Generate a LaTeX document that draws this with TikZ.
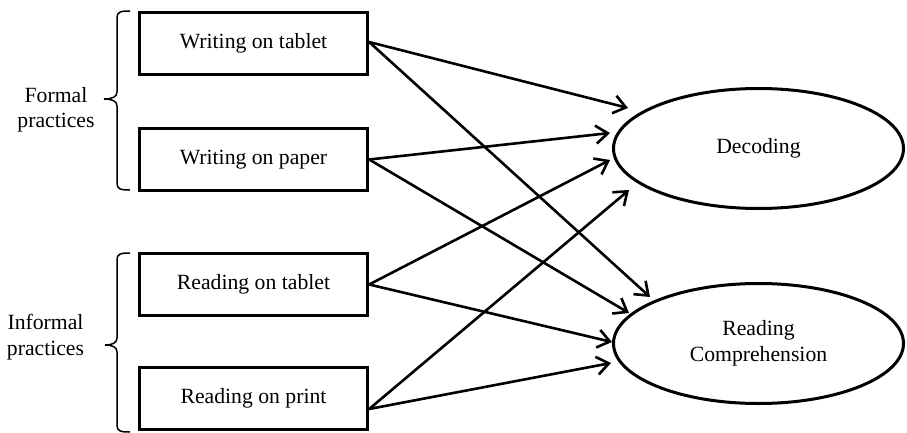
\documentclass[tikz,border=0pt]{standalone}
\usepackage{fontspec}
\setmainfont{Liberation Serif}
\usetikzlibrary{shapes.geometric,arrows.meta,calc}
\tikzset{
  pbox/.style={draw, line width=3.3pt, minimum width=228pt, minimum height=62pt, inner sep=0pt, font=\fontsize{21.7}{25.5}\selectfont},
  oval/.style={draw, ellipse, line width=3pt, minimum width=290pt, minimum height=120pt, inner sep=0pt, align=center, font=\fontsize{21.7}{25.5}\selectfont},
  grp/.style={align=center, font=\fontsize{21.7}{25.5}\selectfont, inner sep=0pt},
  arr/.style={line width=2.6pt, -{Straight Barb[length=12pt,width=18pt,line width=2.6pt]}, line cap=round},
  brace/.style={line width=1.5pt}
}
\begin{document}
\begin{tikzpicture}[x=1pt,y=-1pt]
\useasboundingbox (0,0) rectangle (907,433);
% boxes
\node[pbox] (wt) at (253.5,43.5) {Writing on tablet};
\node[pbox] (wp) at (253.5,159.5) {Writing on paper};
\node[pbox] (rt) at (253.5,284.5) {Reading on tablet};
\node[pbox] (rp) at (253.5,398.5) {Reading on print};
% ellipses
\node[oval] (dec) at (758.5,148.5) {Decoding};
\node[oval] (rc) at (758.5,343.5) {Reading\\Comprehension};
% group labels
\node[grp] (formal) at (56,110) {Formal\\practices};
\node[grp] (informal) at (45.5,337) {Informal\\practices};
% braces
\draw[brace] (130,11) .. controls (120,11) and (117,12) .. (117,18) -- (117,92)
  .. controls (117,97) and (112,99) .. (104,99) .. controls (112,99) and (117,101) .. (117,106)
  -- (117,183) .. controls (117,189) and (120,190) .. (130,190);
\draw[brace] (130,253) .. controls (120,253) and (117,254) .. (117,260) -- (117,338)
  .. controls (117,343) and (112,345) .. (105,345) .. controls (112,345) and (117,347) .. (117,352)
  -- (117,425) .. controls (117,431) and (120,432) .. (130,432);
% arrow end points
\coordinate (d1) at ($(dec)+(-130.5,-40.5)$);
\coordinate (d2) at ($(dec)+(-148.5,-15.5)$);
\coordinate (d3) at ($(dec)+(-148.5,11.5)$);
\coordinate (d4) at ($(dec)+(-129.5,41.5)$);
\coordinate (r1) at ($(rc)+(-108.5,-46.5)$);
\coordinate (r2) at ($(rc)+(-129.5,-30.5)$);
\coordinate (r3) at ($(rc)+(-146.5,-1.5)$);
\coordinate (r4) at ($(rc)+(-147.5,19.5)$);
\coordinate (wts) at ($(wt.east)+(0,-1.5)$);
\coordinate (rps) at ($(rp.east)+(0,10.5)$);
% connectors
\draw[arr] (wts) -- (d1);
\draw[arr] (wts) -- (r1);
\draw[arr] (wp.east) -- (d2);
\draw[arr] (wp.east) -- (r2);
\draw[arr] (rt.east) -- (d3);
\draw[arr] (rt.east) -- (r3);
\draw[arr] (rps) -- (d4);
\draw[arr] (rps) -- (r4);
\end{tikzpicture}
\end{document}
